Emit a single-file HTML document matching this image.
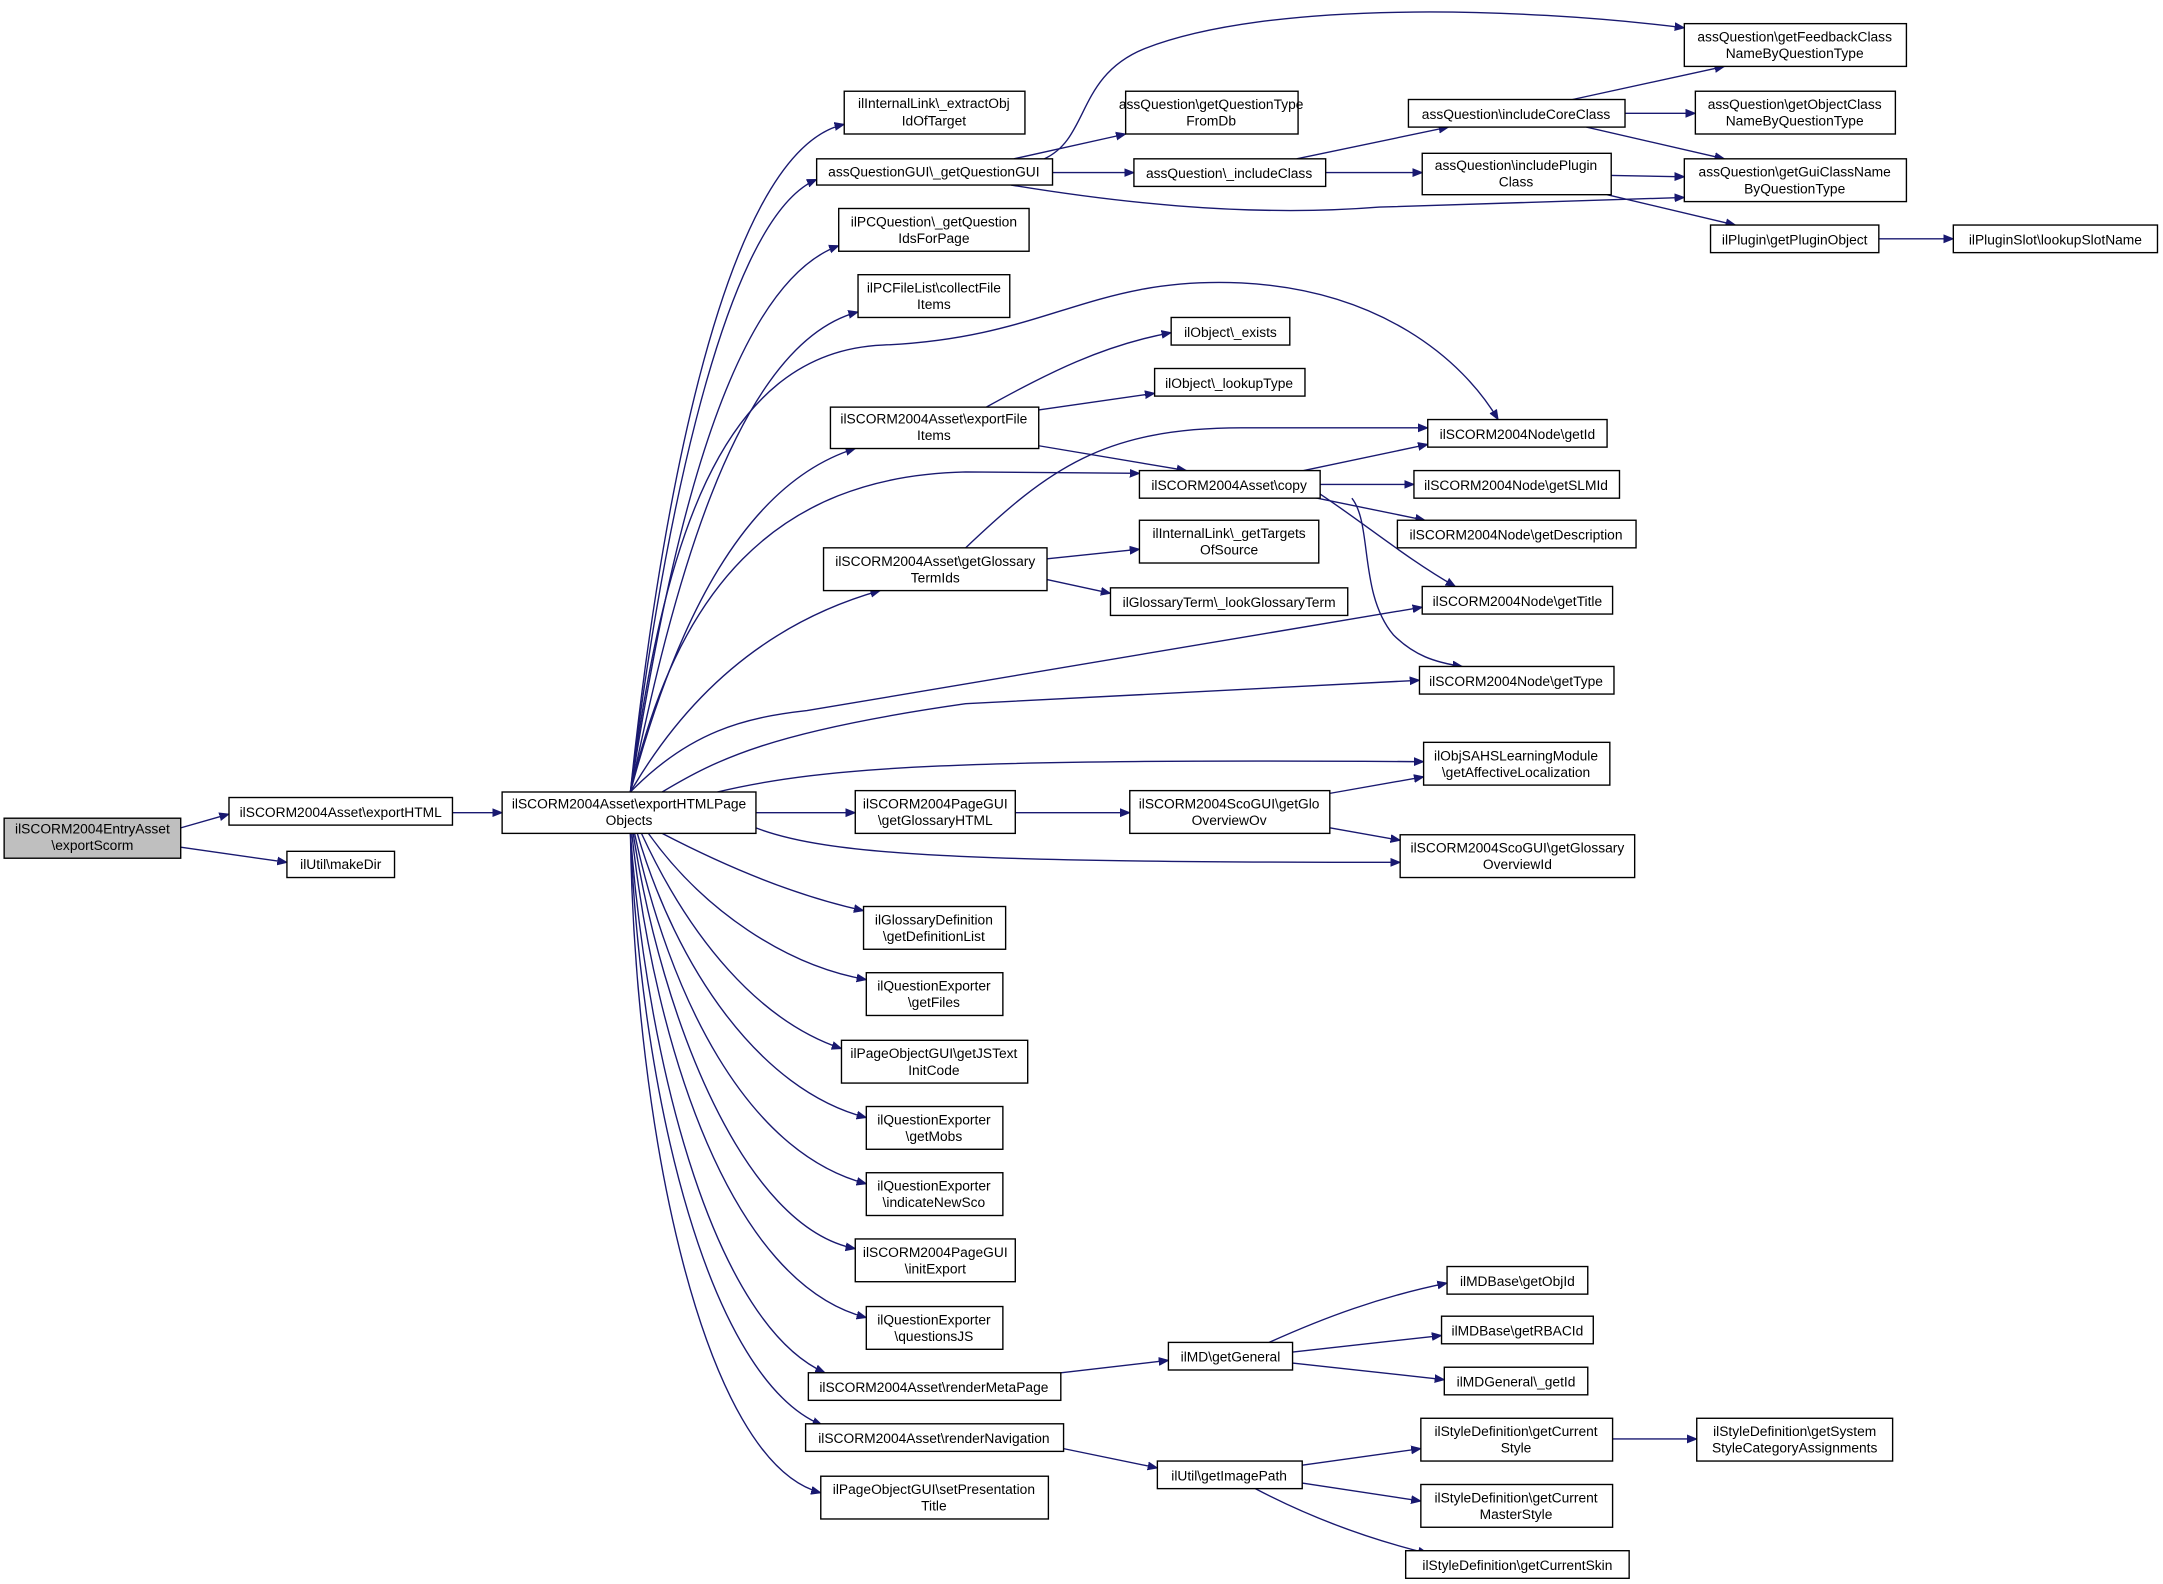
<!DOCTYPE html>
<html><head><meta charset="utf-8"><style>
html,body{margin:0;padding:0;background:#fff}
svg{display:block}
text{font-family:"Liberation Sans",sans-serif;font-size:10px;fill:#000}
rect{fill:#fff;stroke:#000;stroke-width:1}
path.e{fill:none;stroke:#191970;stroke-width:1}
</style></head><body>
<svg width="2163" height="1584" viewBox="0 0 1568 1148" xmlns="http://www.w3.org/2000/svg">
<defs><marker id="a" viewBox="0 0 10 10" refX="10" refY="5" markerWidth="7" markerHeight="7" orient="auto" markerUnits="userSpaceOnUse"><path d="M0,1 L10,5 L0,9 z" fill="#191970" stroke="#191970"/></marker></defs>
<g marker-end="url(#a)">
<path class="e" d="M131 600 L166 590"/>
<path class="e" d="M131 614 L208 625"/>
<path class="e" d="M328 589 L364 589"/>
<path class="e" d="M457 574 C475 400,520 110,612 90"/>
<path class="e" d="M457 574 C475 420,520 160,592 130"/>
<path class="e" d="M457 574 C480 430,520 210,608 178"/>
<path class="e" d="M457 574 C485 440,530 250,622 226"/>
<path class="e" d="M457 574 C480 400,520 255,640 250 C760 245,790 200,900 205 C1000 210,1060 260,1086 304"/>
<path class="e" d="M457 574 C490 450,540 350,620 325"/>
<path class="e" d="M457 574 C490 430,560 345,700 342 L826 343"/>
<path class="e" d="M457 574 C500 500,560 450,638 428"/>
<path class="e" d="M457 574 C500 530,540 520,585 515 L1031 440"/>
<path class="e" d="M480 574 C520 550,560 530,700 510 L1029 493"/>
<path class="e" d="M520 574 C600 555,700 550,1032 552"/>
<path class="e" d="M548 589 L620 589"/>
<path class="e" d="M548 600 C600 620,700 625,1015 625"/>
<path class="e" d="M480 604 C530 630,580 650,626 660"/>
<path class="e" d="M470 604 C510 660,570 700,628 710"/>
<path class="e" d="M465 604 C500 680,550 740,610 760"/>
<path class="e" d="M462 604 C490 700,550 790,628 810"/>
<path class="e" d="M460 604 C485 720,540 835,628 858"/>
<path class="e" d="M459 604 C480 740,540 890,620 905"/>
<path class="e" d="M458 604 C475 760,530 930,628 955"/>
<path class="e" d="M457 604 C470 780,520 960,598 995"/>
<path class="e" d="M457 604 C465 800,515 1000,596 1033"/>
<path class="e" d="M457 604 C460 820,510 1060,595 1082"/>
<path class="e" d="M735 115 L816 97"/>
<path class="e" d="M763 125 L822 125"/>
<path class="e" d="M757 115 C790 100,780 55,830 35 C920 0,1100 5,1221 20"/>
<path class="e" d="M733 134 C800 145,900 158,1000 150 L1221 143"/>
<path class="e" d="M940 115 L1050 92"/>
<path class="e" d="M961 125 L1031 125"/>
<path class="e" d="M1140 72 L1250 48"/>
<path class="e" d="M1178 82 L1229 82"/>
<path class="e" d="M1150 92 L1250 115"/>
<path class="e" d="M1168 127 L1221 128"/>
<path class="e" d="M1165 141 L1258 163"/>
<path class="e" d="M1362 173 L1416 173"/>
<path class="e" d="M715 295 C760 270,800 250,849 241"/>
<path class="e" d="M753 297 L837 285"/>
<path class="e" d="M753 323 L860 341"/>
<path class="e" d="M700 397 C760 340,800 310,900 310 L1035 310"/>
<path class="e" d="M759 405 L826 398"/>
<path class="e" d="M759 420 L805 430"/>
<path class="e" d="M945 341 L1035 322"/>
<path class="e" d="M957 351 L1025 351"/>
<path class="e" d="M950 360 L1033 377"/>
<path class="e" d="M957 358 C990 380,1020 405,1055 425"/>
<path class="e" d="M980 361 C995 380,985 430,1010 460 C1025 475,1040 480,1060 483"/>
<path class="e" d="M736 589 L819 589"/>
<path class="e" d="M964 575 L1032 563"/>
<path class="e" d="M964 600 L1015 609"/>
<path class="e" d="M769 995 L847 986"/>
<path class="e" d="M920 973 C960 955,1000 940,1049 930"/>
<path class="e" d="M937 980 L1045 968"/>
<path class="e" d="M937 988 L1047 1000"/>
<path class="e" d="M771 1050 L839 1064"/>
<path class="e" d="M944 1062 L1030 1050"/>
<path class="e" d="M944 1075 L1030 1088"/>
<path class="e" d="M910 1079 C950 1100,990 1115,1035 1126"/>
<path class="e" d="M1169 1043 L1230 1043"/>
</g>
<g text-anchor="middle">
<rect x="3" y="593" width="128" height="29" style="fill:#bfbfbf"/><text x="67" y="604">ilSCORM2004EntryAsset</text><text x="67" y="616">\exportScorm</text>
<rect x="166" y="578" width="162" height="20"/><text x="247" y="592">ilSCORM2004Asset\exportHTML</text>
<rect x="208" y="617" width="78" height="19"/><text x="247" y="630">ilUtil\makeDir</text>
<rect x="364" y="574" width="184" height="30"/><text x="456" y="586">ilSCORM2004Asset\exportHTMLPage</text><text x="456" y="598">Objects</text>
<rect x="612" y="66" width="131" height="31"/><text x="677" y="78">ilInternalLink\_extractObj</text><text x="677" y="91">IdOfTarget</text>
<rect x="592" y="115" width="171" height="19"/><text x="677" y="128">assQuestionGUI\_getQuestionGUI</text>
<rect x="608" y="151" width="138" height="31"/><text x="677" y="164">ilPCQuestion\_getQuestion</text><text x="677" y="176">IdsForPage</text>
<rect x="622" y="199" width="110" height="31"/><text x="677" y="212">ilPCFileList\collectFile</text><text x="677" y="224">Items</text>
<rect x="602" y="295" width="151" height="30"/><text x="677" y="307">ilSCORM2004Asset\exportFile</text><text x="677" y="319">Items</text>
<rect x="597" y="397" width="162" height="31"/><text x="678" y="410">ilSCORM2004Asset\getGlossary</text><text x="678" y="422">TermIds</text>
<rect x="620" y="573" width="116" height="31"/><text x="678" y="586">ilSCORM2004PageGUI</text><text x="678" y="598">\getGlossaryHTML</text>
<rect x="626" y="657" width="103" height="31"/><text x="677" y="670">ilGlossaryDefinition</text><text x="677" y="682">\getDefinitionList</text>
<rect x="628" y="705" width="99" height="31"/><text x="677" y="718">ilQuestionExporter</text><text x="677" y="730">\getFiles</text>
<rect x="610" y="754" width="135" height="31"/><text x="677" y="767">ilPageObjectGUI\getJSText</text><text x="677" y="779">InitCode</text>
<rect x="628" y="802" width="99" height="31"/><text x="677" y="815">ilQuestionExporter</text><text x="677" y="827">\getMobs</text>
<rect x="628" y="850" width="99" height="31"/><text x="677" y="863">ilQuestionExporter</text><text x="677" y="875">\indicateNewSco</text>
<rect x="620" y="898" width="116" height="31"/><text x="678" y="911">ilSCORM2004PageGUI</text><text x="678" y="923">\initExport</text>
<rect x="628" y="947" width="99" height="31"/><text x="677" y="960">ilQuestionExporter</text><text x="677" y="972">\questionsJS</text>
<rect x="586" y="995" width="183" height="20"/><text x="677" y="1009">ilSCORM2004Asset\renderMetaPage</text>
<rect x="584" y="1032" width="187" height="20"/><text x="677" y="1046">ilSCORM2004Asset\renderNavigation</text>
<rect x="595" y="1070" width="165" height="31"/><text x="677" y="1083">ilPageObjectGUI\setPresentation</text><text x="677" y="1095">Title</text>
<rect x="816" y="66" width="125" height="31"/><text x="878" y="79">assQuestion\getQuestionType</text><text x="878" y="91">FromDb</text>
<rect x="822" y="115" width="139" height="20"/><text x="891" y="129">assQuestion\_includeClass</text>
<rect x="1021" y="72" width="157" height="20"/><text x="1099" y="86">assQuestion\includeCoreClass</text>
<rect x="1031" y="111" width="137" height="30"/><text x="1099" y="123">assQuestion\includePlugin</text><text x="1099" y="135">Class</text>
<rect x="1221" y="17" width="161" height="31"/><text x="1301" y="30">assQuestion\getFeedbackClass</text><text x="1301" y="42">NameByQuestionType</text>
<rect x="1229" y="66" width="145" height="31"/><text x="1301" y="79">assQuestion\getObjectClass</text><text x="1301" y="91">NameByQuestionType</text>
<rect x="1221" y="115" width="161" height="31"/><text x="1301" y="128">assQuestion\getGuiClassName</text><text x="1301" y="140">ByQuestionType</text>
<rect x="1240" y="163" width="122" height="20"/><text x="1301" y="177">ilPlugin\getPluginObject</text>
<rect x="1416" y="163" width="148" height="20"/><text x="1490" y="177">ilPluginSlot\lookupSlotName</text>
<rect x="849" y="230" width="86" height="20"/><text x="892" y="244">ilObject\_exists</text>
<rect x="837" y="267" width="109" height="20"/><text x="891" y="281">ilObject\_lookupType</text>
<rect x="1035" y="304" width="130" height="20"/><text x="1100" y="318">ilSCORM2004Node\getId</text>
<rect x="826" y="341" width="131" height="20"/><text x="891" y="355">ilSCORM2004Asset\copy</text>
<rect x="1025" y="341" width="149" height="20"/><text x="1099" y="355">ilSCORM2004Node\getSLMId</text>
<rect x="1013" y="377" width="173" height="20"/><text x="1099" y="391">ilSCORM2004Node\getDescription</text>
<rect x="826" y="377" width="130" height="31"/><text x="891" y="390">ilInternalLink\_getTargets</text><text x="891" y="402">OfSource</text>
<rect x="805" y="426" width="172" height="20"/><text x="891" y="440">ilGlossaryTerm\_lookGlossaryTerm</text>
<rect x="1031" y="425" width="138" height="20"/><text x="1100" y="439">ilSCORM2004Node\getTitle</text>
<rect x="1029" y="483" width="141" height="20"/><text x="1099" y="497">ilSCORM2004Node\getType</text>
<rect x="1032" y="538" width="135" height="31"/><text x="1099" y="551">ilObjSAHSLearningModule</text><text x="1099" y="563">\getAffectiveLocalization</text>
<rect x="819" y="573" width="145" height="31"/><text x="891" y="586">ilSCORM2004ScoGUI\getGlo</text><text x="891" y="598">OverviewOv</text>
<rect x="1015" y="605" width="170" height="31"/><text x="1100" y="618">ilSCORM2004ScoGUI\getGlossary</text><text x="1100" y="630">OverviewId</text>
<rect x="847" y="973" width="90" height="20"/><text x="892" y="987">ilMD\getGeneral</text>
<rect x="1049" y="918" width="102" height="20"/><text x="1100" y="932">ilMDBase\getObjId</text>
<rect x="1045" y="954" width="110" height="20"/><text x="1100" y="968">ilMDBase\getRBACId</text>
<rect x="1047" y="991" width="104" height="20"/><text x="1099" y="1005">ilMDGeneral\_getId</text>
<rect x="839" y="1059" width="105" height="20"/><text x="891" y="1073">ilUtil\getImagePath</text>
<rect x="1030" y="1028" width="139" height="31"/><text x="1099" y="1041">ilStyleDefinition\getCurrent</text><text x="1099" y="1053">Style</text>
<rect x="1030" y="1076" width="139" height="31"/><text x="1099" y="1089">ilStyleDefinition\getCurrent</text><text x="1099" y="1101">MasterStyle</text>
<rect x="1019" y="1124" width="162" height="20"/><text x="1100" y="1138">ilStyleDefinition\getCurrentSkin</text>
<rect x="1230" y="1028" width="142" height="31"/><text x="1301" y="1041">ilStyleDefinition\getSystem</text><text x="1301" y="1053">StyleCategoryAssignments</text>
</g>
</svg>
</body></html>
